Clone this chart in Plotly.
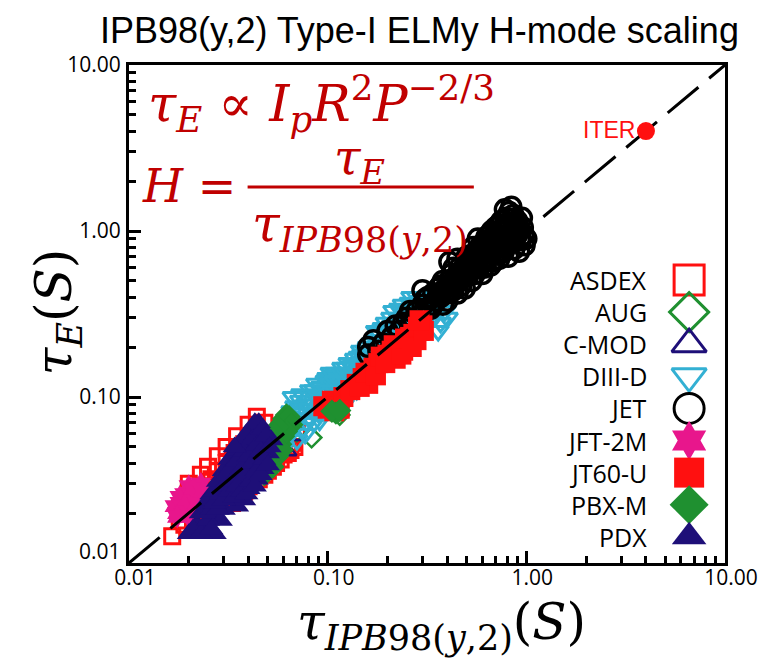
import plotly.graph_objects as go

# ---------------- data ----------------
asdex = [(0.0165,0.0145),(0.018,0.018),(0.019,0.021),(0.021,0.019),(0.020,0.024),(0.022,0.026),
         (0.023,0.022),(0.024,0.029),(0.025,0.024),(0.025,0.038),(0.026,0.032),(0.027,0.027),
         (0.028,0.036),(0.029,0.030),(0.030,0.025),(0.031,0.040),(0.032,0.034),(0.033,0.028),
         (0.034,0.046),(0.035,0.036),(0.036,0.030),(0.037,0.026),(0.038,0.052),(0.040,0.042),
         (0.040,0.029),(0.042,0.034),(0.043,0.060),(0.045,0.048),(0.045,0.032),(0.047,0.040),
         (0.048,0.070),(0.050,0.055),(0.050,0.036),(0.052,0.044),(0.055,0.060),(0.055,0.040),
         (0.058,0.050),(0.060,0.045),(0.062,0.058),(0.065,0.048),(0.067,0.053),(0.070,0.060),
         (0.033,0.023),(0.019,0.017),(0.021,0.018),(0.020,0.030),(0.023,0.034),(0.028,0.044),
         (0.031,0.050),(0.035,0.058),(0.040,0.068),(0.044,0.076),(0.026,0.020),(0.038,0.027),
         (0.042,0.031),(0.048,0.034),(0.053,0.038),(0.058,0.042),(0.063,0.046),(0.068,0.050)]
aug = [(0.083,0.057),(0.115,0.078),(0.060,0.052),(0.070,0.062)]
cmod = [(0.060,0.050),(0.063,0.047),(0.070,0.058)]
diiid = [(0.060,0.050),(0.065,0.060),(0.070,0.055),(0.068,0.070),(0.072,0.085),(0.067,0.100),
         (0.075,0.065),(0.080,0.075),(0.078,0.090),(0.082,0.110),(0.085,0.070),(0.090,0.080),
         (0.090,0.095),(0.088,0.120),(0.095,0.105),(0.100,0.085),(0.100,0.130),(0.105,0.115),
         (0.110,0.100),(0.110,0.140),(0.115,0.125),(0.120,0.090),(0.120,0.110),(0.125,0.150),
         (0.130,0.120),(0.130,0.105),(0.135,0.140),(0.140,0.160),(0.140,0.110),(0.150,0.130),
         (0.150,0.180),(0.155,0.150),(0.160,0.200),(0.160,0.125),(0.170,0.170),(0.175,0.220),
         (0.180,0.150),(0.185,0.190),(0.190,0.260),(0.200,0.210),(0.200,0.170),(0.210,0.300),
         (0.220,0.240),(0.220,0.190),(0.230,0.340),(0.240,0.270),(0.250,0.220),(0.260,0.370),
         (0.270,0.300),(0.280,0.250),(0.300,0.330),(0.320,0.280),(0.330,0.380),(0.350,0.310),
         (0.360,0.250),(0.380,0.420),(0.400,0.350),(0.400,0.300),
         (0.062,0.056),(0.066,0.082),(0.070,0.075),(0.073,0.095),(0.076,0.080),(0.079,0.070),
         (0.082,0.095),(0.084,0.085),(0.087,0.100),(0.092,0.088),(0.093,0.115),(0.097,0.095),
         (0.098,0.125),(0.102,0.100),(0.103,0.120),(0.107,0.135),(0.108,0.090),(0.112,0.115),
         (0.117,0.105),(0.118,0.140),(0.122,0.130),(0.127,0.115),(0.128,0.160),(0.132,0.135),
         (0.137,0.125),(0.138,0.170),(0.143,0.145),(0.146,0.120),(0.148,0.190),(0.153,0.165),
         (0.158,0.140),(0.163,0.180),(0.167,0.210),(0.172,0.160),(0.178,0.195),(0.182,0.240),
         (0.187,0.170),(0.193,0.220),(0.197,0.280),(0.205,0.190),(0.208,0.250),(0.215,0.330),
         (0.225,0.280),(0.235,0.230),(0.245,0.320),(0.255,0.260),(0.265,0.400),(0.275,0.340),
         (0.285,0.280),(0.295,0.380),(0.310,0.300),(0.340,0.350),(0.370,0.280),(0.390,0.330),
         (0.064,0.070),(0.069,0.088),(0.074,0.104),(0.077,0.060),(0.081,0.085),(0.086,0.110),
         (0.091,0.072),(0.096,0.082),(0.099,0.110),(0.104,0.140),(0.109,0.125),(0.113,0.095),
         (0.119,0.150),(0.124,0.100),(0.129,0.140),(0.134,0.155),(0.139,0.130),(0.144,0.175),
         (0.149,0.150),(0.156,0.190),(0.162,0.160),(0.168,0.180),(0.176,0.250),(0.184,0.210),
         (0.195,0.240),(0.212,0.270),(0.228,0.300),(0.240,0.360),(0.252,0.290),(0.268,0.330),
         (0.283,0.400),(0.300,0.360),(0.325,0.320)]
jet = [(0.16,0.18),(0.17,0.22),(0.16,0.20),(0.18,0.19),(0.20,0.25),(0.22,0.27),(0.24,0.28),
       (0.21,0.23),(0.25,0.30),(0.28,0.33),(0.30,0.36),(0.27,0.29),(0.32,0.40),(0.30,0.44),
       (0.35,0.38),(0.36,0.45),(0.33,0.34),(0.38,0.50),(0.40,0.42),(0.42,0.55),(0.41,0.65),
       (0.44,0.48),(0.46,0.60),(0.48,0.52),(0.50,0.70),(0.52,0.58),(0.54,0.80),(0.55,0.62),
       (0.57,0.90),(0.58,0.70),(0.60,0.66),(0.62,0.85),(0.63,0.75),(0.65,0.95),(0.66,0.62),
       (0.68,0.80),(0.70,1.05),(0.72,0.72),(0.74,0.90),(0.75,1.15),(0.78,0.80),(0.80,1.00),
       (0.82,1.30),(0.84,1.40),(0.85,0.85),(0.88,1.10),(0.90,0.95),(0.95,1.20),(1.00,0.90),
       (0.92,0.75),(0.38,0.36),(0.45,0.42),(0.53,0.50),(0.60,0.55),
       (0.19,0.21),(0.23,0.25),(0.26,0.27),(0.26,0.33),(0.29,0.31),(0.31,0.33),(0.31,0.39),
       (0.34,0.42),(0.34,0.36),(0.37,0.40),(0.37,0.47),(0.39,0.45),(0.40,0.38),(0.41,0.50),
       (0.43,0.44),(0.43,0.60),(0.45,0.52),(0.45,0.68),(0.47,0.47),(0.47,0.56),(0.49,0.62),
       (0.49,0.45),(0.51,0.54),(0.51,0.66),(0.53,0.72),(0.55,0.55),(0.56,0.68),(0.57,0.76),
       (0.59,0.62),(0.59,0.82),(0.61,0.72),(0.61,0.60),(0.63,0.92),(0.64,0.68),(0.66,0.85),
       (0.67,0.74),(0.67,1.00),(0.69,0.66),(0.70,0.90),(0.71,0.80),(0.73,1.10),(0.73,0.68),
       (0.76,0.98),(0.77,0.75),(0.79,1.20),(0.79,0.88),(0.81,0.70),(0.83,0.95),(0.86,1.25),
       (0.87,0.78),(0.89,1.05),(0.93,0.90),(0.96,1.05),(0.98,0.82),(0.78,1.35),(0.86,1.18),
       (0.36,0.41),(0.39,0.42),(0.42,0.47),(0.44,0.53),(0.46,0.50),(0.48,0.58),(0.50,0.60),
       (0.52,0.64),(0.54,0.70),(0.56,0.60),(0.58,0.76),(0.60,0.78),(0.62,0.68),(0.64,0.82),
       (0.66,0.76),(0.68,0.92),(0.70,0.74),(0.72,0.86),(0.74,1.00),(0.76,0.84),(0.78,1.08),
       (0.80,0.92),(0.82,1.12),(0.84,0.88),(0.86,1.00),(0.88,0.92),(0.90,1.15),(0.92,1.00),
       (0.94,0.88),(0.97,0.95)]
jft2m = [(0.0175,0.020),(0.018,0.023),(0.019,0.026),(0.020,0.029),(0.021,0.024),(0.022,0.027),
         (0.023,0.030),(0.019,0.021),(0.021,0.021),(0.017,0.022),(0.0225,0.025),(0.020,0.019),
         (0.018,0.025),(0.0185,0.022),(0.0195,0.024),(0.0205,0.026),(0.021,0.028),(0.022,0.023),
         (0.0235,0.027),(0.0175,0.019)]
jt60u = [(0.100,0.085),(0.110,0.090),(0.105,0.095),(0.115,0.085),(0.140,0.120),(0.150,0.130),
         (0.160,0.120),(0.165,0.140),(0.170,0.150),(0.190,0.170),(0.200,0.180),(0.210,0.190),
         (0.220,0.170),(0.230,0.200),(0.250,0.210),(0.260,0.230),(0.270,0.240),(0.290,0.250),
         (0.300,0.270),(0.280,0.220),(0.240,0.190),(0.180,0.160),
         (0.095,0.088),(0.108,0.082),(0.120,0.100),(0.130,0.110),(0.145,0.115),(0.155,0.140),
         (0.175,0.135),(0.185,0.175),(0.195,0.160),(0.215,0.205),(0.235,0.180),(0.245,0.225),
         (0.265,0.200),(0.285,0.265),(0.305,0.250),(0.290,0.290)]
pbxm = [(0.048,0.034),(0.050,0.040),(0.052,0.046),(0.054,0.050),(0.055,0.056),(0.057,0.062),
        (0.058,0.068),(0.060,0.074),(0.062,0.078),(0.056,0.044),(0.058,0.052),(0.060,0.058),
        (0.063,0.065),(0.053,0.038),(0.065,0.072),(0.110,0.080),
        (0.049,0.036),(0.051,0.043),(0.055,0.047),(0.057,0.055),(0.059,0.064),(0.061,0.070),
        (0.064,0.076),(0.066,0.068),(0.059,0.048),(0.062,0.062),(0.056,0.066),(0.054,0.060),
        (0.105,0.082),(0.115,0.083)]
pdx = [(0.020,0.015),(0.022,0.017),(0.024,0.016),(0.027,0.015),(0.023,0.020),(0.025,0.022),
       (0.027,0.019),(0.029,0.018),(0.026,0.026),(0.028,0.024),(0.030,0.021),(0.029,0.030),
       (0.031,0.027),(0.033,0.024),(0.035,0.022),(0.030,0.036),(0.032,0.032),(0.034,0.029),
       (0.036,0.026),(0.038,0.024),(0.032,0.042),(0.034,0.038),(0.036,0.034),(0.038,0.031),
       (0.040,0.028),(0.035,0.048),(0.037,0.044),(0.039,0.040),(0.041,0.036),(0.044,0.032),
       (0.038,0.056),(0.040,0.052),(0.042,0.047),(0.045,0.042),(0.047,0.037),(0.041,0.062),
       (0.043,0.066),(0.046,0.058),(0.048,0.052),(0.050,0.046),(0.052,0.055),(0.045,0.070),
       (0.021,0.016),(0.023,0.015),(0.025,0.018),(0.026,0.016),(0.024,0.020),(0.026,0.021),
       (0.028,0.021),(0.025,0.024),(0.027,0.023),(0.027,0.027),(0.029,0.026),(0.030,0.024),
       (0.028,0.031),(0.030,0.029),(0.032,0.027),(0.034,0.025),(0.031,0.034),(0.033,0.031),
       (0.035,0.029),(0.037,0.027),(0.039,0.026),(0.033,0.038),(0.035,0.041),(0.037,0.037),
       (0.039,0.034),(0.041,0.031),(0.043,0.029),(0.036,0.052),(0.038,0.047),(0.040,0.044),
       (0.042,0.040),(0.044,0.036),(0.046,0.034),(0.039,0.060),(0.042,0.056),(0.044,0.051),
       (0.046,0.047),(0.048,0.042),(0.050,0.039),(0.043,0.070),(0.047,0.064),(0.049,0.058),
       (0.051,0.050),(0.034,0.050)]
iter_x = [4.0]
iter_y = [4.0]
unity_x = [0.01, 10]
unity_y = [0.01, 10]

legend_names = ["ASDEX", "AUG", "C-MOD", "DIII-D", "JET", "JFT-2M", "JT60-U", "PBX-M", "PDX"]
tick_vals = [0.01, 0.1, 1, 10]
tick_text = ["0.01", "0.10", "1.00", "10.00"]
minor_vals = [m * 10.0 ** e for e in (-2, -1, 0) for m in range(2, 10)]

# ---------------- styles ----------------
RED = "#FF1010"
GREEN = "#1F9030"
NAVY = "#1E0F78"
CYAN = "#33B0D3"
PINK = "#E8168C"
DARKRED = "#C00000"

styles = [  # symbol, color, size in plot, line width
    ("square-open", RED, 15, 3),
    ("diamond-open", GREEN, 15, 2.5),
    ("triangle-up-open", NAVY, 15, 2.5),
    ("triangle-down-open", CYAN, 18, 3),
    ("circle-open", "black", 19, 3.5),
    ("hexagram", PINK, 18, 0),
    ("square", RED, 20, 0),
    ("diamond", GREEN, 18, 0),
    ("triangle-up", NAVY, 21, 0),
]
series = [asdex, aug, cmod, diiid, jet, jft2m, jt60u, pbxm, pdx]

OFF = 8                       # page body margin of the browser
W, H = 770 - OFF, 658 - OFF   # figure size
L, R, T, B = 129, 727, 65, 563  # plot area in page pixels


def px(x):
    return (x - L) / (R - L)


def py(y):
    return (B - y) / (B - T)


fig = go.Figure()
for data, (sym, col, size, lw) in zip(series, styles):
    xs = [p[0] for p in data]
    ys = [p[1] for p in data]
    fig.add_trace(go.Scatter(
        x=xs, y=ys, mode="markers", showlegend=False, hoverinfo="skip",
        marker=dict(symbol=sym, color=col, size=size, line=dict(width=lw, color=col))))

fig.add_trace(go.Scatter(x=unity_x, y=unity_y, mode="lines", showlegend=False, hoverinfo="skip",
                         line=dict(color="black", width=3, dash="40px,14px")))
fig.add_trace(go.Scatter(x=iter_x, y=iter_y, mode="markers", showlegend=False, hoverinfo="skip",
                         marker=dict(symbol="circle", color=RED, size=18), cliponaxis=False))

# manual legend (pixel-space overlay axes)
row0, step = 280, 32.1
leg_y = [row0 + i * step for i in range(len(legend_names))]
fig.add_trace(go.Scatter(
    x=[691] * len(legend_names), y=leg_y, mode="markers", xaxis="x2", yaxis="y2",
    showlegend=False, hoverinfo="skip", cliponaxis=False,
    marker=dict(symbol=[s[0] for s in styles], color=[s[1] for s in styles], size=30,
                line=dict(width=[3 if s[3] else 0 for s in styles], color=[s[1] for s in styles]))))

annotations = []
for name, yy in zip(legend_names, leg_y):
    annotations.append(dict(x=px(651), y=py(yy), xref="paper", yref="paper", text=name,
                            showarrow=False, xanchor="right", yanchor="middle",
                            font=dict(family="Open Sans", size=25, color="black")))

SERIF = "DejaVu Serif"
annotations += [
    dict(x=px(420), y=py(30), text="IPB98(y,2) Type-I ELMy H-mode scaling",
         xanchor="center", yanchor="middle",
         font=dict(family="Liberation Sans", size=36, color="black")),
    dict(x=px(146), y=py(104), xanchor="left", yanchor="middle",
         text="<i>τ</i><sub><i>E</i></sub> ∝ <i>I</i><sub><i>p</i></sub><i>R</i><sup>2</sup><i>P</i><sup>−2/3</sup>",
         font=dict(family=SERIF, size=51, color=DARKRED)),
    dict(x=px(140), y=py(186), xanchor="left", yanchor="middle",
         text="<i>H</i> =", font=dict(family=SERIF, size=46, color=DARKRED)),
    dict(x=px(360), y=py(160), xanchor="center", yanchor="middle",
         text="<i>τ</i><sub><i>E</i></sub>", font=dict(family=SERIF, size=48, color=DARKRED)),
    dict(x=px(361), y=py(228), xanchor="center", yanchor="middle",
         text="<i>τ</i><sub><i>IPB</i>98(<i>y</i>,2)</sub>", font=dict(family=SERIF, size=50, color=DARKRED)),
    dict(x=px(611), y=py(130), xanchor="center", yanchor="middle",
         text="ITER", font=dict(family="Liberation Sans", size=23, color=RED)),
    dict(x=px(443), y=py(625), xanchor="center", yanchor="middle",
         text="<i>τ</i><sub><i>IPB</i>98(<i>y</i>,2)</sub>(<i>S</i>)",
         font=dict(family=SERIF, size=50, color="black")),
    dict(x=px(57), y=py(312), xanchor="center", yanchor="middle", textangle=-90,
         text="<i>τ</i><sub><i>E</i></sub>(<i>S</i>)",
         font=dict(family=SERIF, size=50, color="black")),
    # lowest y tick label, raised above the corner as in the reference
    dict(x=px(123), y=py(551), xanchor="right", yanchor="middle",
         text=tick_text[0], font=dict(family="Open Sans", size=21, color="black")),
]
for a in annotations[len(legend_names):]:
    a.update(xref="paper", yref="paper", showarrow=False)

axis_common = dict(
    type="log", range=[-2, 1], showline=True, linewidth=3, linecolor="black", mirror=True,
    ticks="inside", ticklen=12, tickwidth=3, tickcolor="black",
    tickmode="array", tickvals=tick_vals,
    tickfont=dict(family="Open Sans", size=21, color="black"),
    showgrid=False, zeroline=False,
    minor=dict(ticks="inside", ticklen=7, tickwidth=2.5, tickcolor="black",
               tickmode="array", tickvals=minor_vals, showgrid=False),
)

fig.update_layout(
    width=W, height=H, autosize=False,
    margin=dict(l=L - OFF, r=W - (R - OFF), t=T - OFF, b=H - (B - OFF), pad=0),
    plot_bgcolor="white", paper_bgcolor="white",
    xaxis=dict(**axis_common, ticktext=tick_text, ticklabelstandoff=-6, ticklabelshift=6),
    yaxis=dict(**axis_common, ticktext=[""] + tick_text[1:], ticklabelstandoff=1),
    xaxis2=dict(overlaying="x", anchor="y2", range=[L, R], visible=False, fixedrange=True),
    yaxis2=dict(overlaying="y", anchor="x2", range=[B, T], visible=False, fixedrange=True),
    annotations=annotations,
    shapes=[dict(type="line", xref="paper", yref="paper", x0=px(248), x1=px(475),
                 y0=py(187), y1=py(187), line=dict(color=DARKRED, width=3))],
)

fig.write_html("out.html")
